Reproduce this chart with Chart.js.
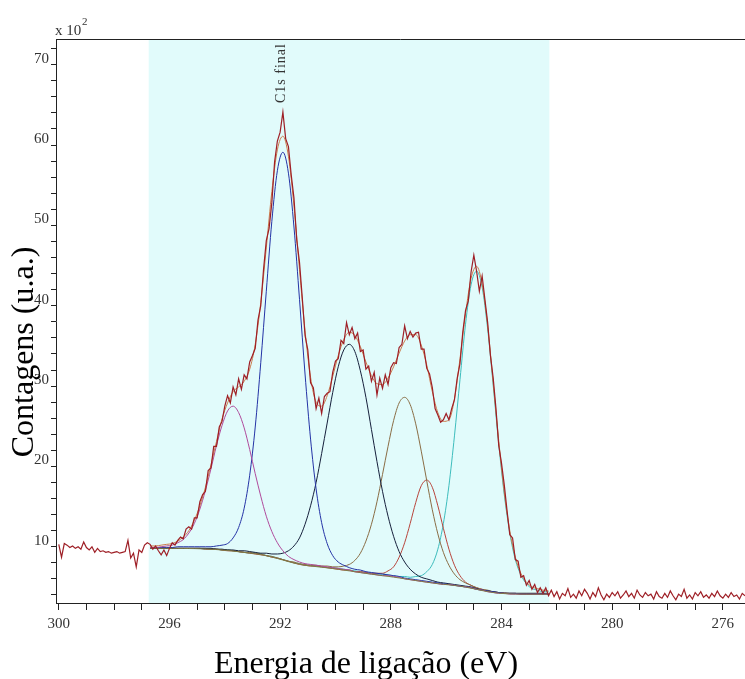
<!DOCTYPE html>
<html>
<head>
<meta charset="utf-8">
<title>C1s final</title>
<script src="https://cdn.jsdelivr.net/npm/chart.js@4.4.1/dist/chart.umd.min.js"></script>
<style>
  html, body { margin: 0; padding: 0; background: #fff; }
  #wrap { width: 745px; height: 679px; }
</style>
</head>
<body>
<div id="wrap"><canvas id="xps" width="745" height="679"></canvas></div>
<script>
// measured spectrum, binding energy in eV, counts in units of 100
const rawEnergy = [
  300.0,299.9,299.8,299.7,299.6,299.5,299.4,299.3,299.2,299.1,
  299.0,298.9,298.8,298.7,298.6,298.5,298.4,298.3,298.2,298.1,
  298.0,297.9,297.8,297.7,297.6,297.5,297.4,297.3,297.2,297.1,
  297.0,296.9,296.8,296.7,296.6,296.5,296.4,296.3,296.2,296.1,
  296.0,295.9,295.8,295.7,295.6,295.5,295.4,295.3,295.2,295.1,
  295.0,294.9,294.8,294.7,294.6,294.5,294.4,294.3,294.2,294.1,
  294.0,293.9,293.8,293.7,293.6,293.5,293.4,293.3,293.2,293.1,
  293.0,292.9,292.8,292.7,292.6,292.5,292.4,292.3,292.2,292.1,
  292.0,291.9,291.8,291.7,291.6,291.5,291.4,291.3,291.2,291.1,
  291.0,290.9,290.8,290.7,290.6,290.5,290.4,290.3,290.2,290.1,
  290.0,289.9,289.8,289.7,289.6,289.5,289.4,289.3,289.2,289.1,
  289.0,288.9,288.8,288.7,288.6,288.5,288.4,288.3,288.2,288.1,
  288.0,287.9,287.8,287.7,287.6,287.5,287.4,287.3,287.2,287.1,
  287.0,286.9,286.8,286.7,286.6,286.5,286.4,286.3,286.2,286.1,
  286.0,285.9,285.8,285.7,285.6,285.5,285.4,285.3,285.2,285.1,
  285.0,284.9,284.8,284.7,284.6,284.5,284.4,284.3,284.2,284.1,
  284.0,283.9,283.8,283.7,283.6,283.5,283.4,283.3,283.2,283.1,
  283.0,282.9,282.8,282.7,282.6,282.5,282.4,282.3,282.2,282.1,
  282.0,281.9,281.8,281.7,281.6,281.5,281.4,281.3,281.2,281.1,
  281.0,280.9,280.8,280.7,280.6,280.5,280.4,280.3,280.2,280.1,
  280.0,279.9,279.8,279.7,279.6,279.5,279.4,279.3,279.2,279.1,
  279.0,278.9,278.8,278.7,278.6,278.5,278.4,278.3,278.2,278.1,
  278.0,277.9,277.8,277.7,277.6,277.5,277.4,277.3,277.2,277.1,
  277.0,276.9,276.8,276.7,276.6,276.5,276.4,276.3,276.2,276.1,
  276.0,275.9,275.8,275.7,275.6,275.5,275.4,275.3,275.2
];
const rawCounts = [
  10.3,8.7,10.4,10.2,9.9,10.1,9.8,10.0,9.7,10.6,
  9.9,9.6,10.0,9.3,9.8,9.4,9.5,9.3,9.4,9.2,
  9.3,9.4,9.2,9.3,9.4,10.8,8.6,9.2,7.5,9.6,
  9.3,10.2,10.5,10.3,9.7,10.1,9.5,9.0,9.6,8.9,
  9.8,10.5,10.2,10.8,11.2,11.0,12.2,12.5,12.2,13.6,
  13.6,15.6,16.5,16.9,19.5,19.8,22.5,22.5,24.9,25.6,
  27.5,28.8,27.9,29.9,28.9,30.9,29.6,31.4,30.9,33.0,
  33.8,34.7,38.2,40.0,44.5,48.1,49.6,52.8,57.9,60.5,
  61.6,64.1,60.8,59.8,56.3,53.4,48.2,45.4,41.0,36.3,
  34.5,30.4,29.8,27.2,28.5,26.6,28.7,29.1,29.3,31.7,
  33.1,33.4,35.7,35.3,37.9,36.4,37.3,35.9,36.6,34.3,
  34.5,32.1,32.5,30.6,31.7,28.9,31.0,29.7,31.4,30.2,
  32.3,32.9,32.8,34.8,35.2,37.5,35.9,36.8,36.1,36.6,
  36.7,34.6,34.6,32.2,31.5,29.8,27.2,26.4,25.5,25.8,
  26.6,25.8,27.2,28.3,31.0,32.8,36.7,39.4,40.6,44.2,
  46.3,44.3,41.8,43.7,40.8,37.9,33.8,31.0,27.2,22.6,
  20.4,17.7,14.5,11.5,11.1,8.4,8.2,6.2,6.4,5.2,
  5.8,4.7,5.3,4.3,4.9,4.2,4.9,3.9,4.6,3.8,
  4.4,3.5,4.2,3.9,4.8,3.7,4.1,3.6,4.5,3.9,
  4.7,4.2,3.5,4.3,3.8,4.9,4.0,3.4,4.1,3.7,
  4.3,3.9,4.4,3.6,4.0,4.5,3.8,4.2,3.6,4.6,
  4.0,3.7,4.3,3.9,4.1,3.5,4.4,3.8,3.6,4.2,
  3.7,4.5,3.9,3.4,4.1,3.8,4.7,3.6,4.0,3.5,
  4.3,3.9,4.4,3.7,4.0,3.6,4.2,3.8,4.5,3.9,
  3.6,4.1,3.7,4.3,3.8,4.0,3.5,4.2,3.9
];

// fitted region (peak fit), sampled every 0.2 eV
const fitEnergy = [
  296.7,296.5,296.3,296.1,295.9,295.7,295.5,295.3,295.1,294.9,
  294.7,294.5,294.3,294.1,293.9,293.7,293.5,293.3,293.1,292.9,
  292.7,292.5,292.3,292.1,291.9,291.7,291.5,291.3,291.1,290.9,
  290.7,290.5,290.3,290.1,289.9,289.7,289.5,289.3,289.1,288.9,
  288.7,288.5,288.3,288.1,287.9,287.7,287.5,287.3,287.1,286.9,
  286.7,286.5,286.3,286.1,285.9,285.7,285.5,285.3,285.1,284.9,
  284.7,284.5,284.3,284.1,283.9,283.7,283.5,283.3,283.1,282.9,
  282.7,282.5,282.3
];
const background = [
  9.80,9.80,9.80,9.80,9.80,9.79,9.79,9.78,9.77,9.75,
  9.73,9.70,9.65,9.60,9.53,9.46,9.38,9.30,9.22,9.13,
  9.02,8.88,8.72,8.54,8.35,8.15,7.97,7.82,7.70,7.61,
  7.53,7.45,7.38,7.29,7.20,7.10,7.00,6.89,6.78,6.68,
  6.59,6.50,6.41,6.32,6.22,6.12,6.02,5.91,5.80,5.69,
  5.59,5.50,5.41,5.33,5.26,5.18,5.09,4.98,4.84,4.70,
  4.55,4.42,4.31,4.23,4.17,4.14,4.12,4.11,4.10,4.10,
  4.10,4.10,4.10
];
const envelope = [
  10.1,10.1,10.2,10.3,10.4,10.7,11.2,12.0,13.3,15.1,
  17.4,20.2,23.1,25.9,27.9,29.3,29.9,30.6,32.1,35.2,
  40.4,47.2,54.2,59.4,61.1,58.6,52.4,44.5,36.9,31.1,
  28.0,27.5,28.8,31.2,33.8,35.8,36.7,36.3,34.9,33.0,
  31.3,30.3,30.2,31.0,32.4,34.1,35.6,36.4,36.4,35.1,
  32.6,29.3,26.7,25.6,25.8,28.4,33.4,39.0,43.4,44.9,
  42.7,37.5,30.4,23.2,16.8,12.0,8.7,6.7,5.6,5.0,
  4.8,4.6,4.5
];
const peak1 = [
  9.9,9.9,10.0,10.1,10.2,10.5,10.9,11.7,12.9,14.7,
  17.0,19.7,22.6,25.1,26.9,27.5,26.7,24.8,22.1,19.1,
  16.3,13.8,11.9,10.5,9.5,8.8,8.4,8.1,7.9,7.8,
  7.7,7.6,7.5,7.4,7.3,7.2,7.1,6.9,6.8,6.7,
  6.6,6.5,6.4,6.4,6.3,6.2,6.0,5.9,5.8,5.7,
  5.6,5.5,5.4,5.3,5.3,5.2,5.1,5.0,4.9,4.7,
  4.6,4.4,4.3,4.2,4.2,4.1,4.1,4.1,4.1,4.1,
  4.1,4.1,4.1
];
const peak2 = [
  9.9,9.9,9.9,9.9,9.9,10.0,10.0,10.0,10.0,10.0,
  10.0,10.0,10.1,10.2,10.4,11.1,12.4,14.8,18.9,24.9,
  32.9,41.8,50.5,56.8,59.1,56.5,49.8,40.8,31.5,23.4,
  17.2,13.0,10.4,8.9,8.1,7.7,7.4,7.2,7.1,6.9,
  6.8,6.7,6.6,6.5,6.4,6.3,6.1,6.0,5.9,5.8,
  5.7,5.6,5.5,5.4,5.3,5.2,5.1,5.0,4.9,4.7,
  4.6,4.5,4.4,4.3,4.2,4.2,4.2,4.1,4.1,4.1,
  4.1,4.1,4.1
];
const peak3 = [
  9.8,9.8,9.8,9.8,9.8,9.8,9.8,9.8,9.8,9.8,
  9.8,9.8,9.7,9.7,9.6,9.6,9.5,9.5,9.4,9.3,
  9.2,9.2,9.1,9.1,9.2,9.5,10.1,11.1,12.8,15.1,
  18.0,21.6,25.4,29.2,32.4,34.5,35.2,34.3,31.9,28.6,
  24.6,20.6,16.9,13.8,11.3,9.4,8.1,7.2,6.6,6.2,
  6.0,5.8,5.6,5.5,5.4,5.3,5.2,5.1,5.0,4.8,
  4.6,4.5,4.4,4.3,4.2,4.2,4.2,4.2,4.2,4.2,
  4.2,4.2,4.1
];
const peak4 = [
  9.8,9.8,9.8,9.8,9.8,9.8,9.8,9.8,9.8,9.8,
  9.8,9.7,9.7,9.6,9.6,9.5,9.4,9.3,9.3,9.2,
  9.1,8.9,8.8,8.6,8.4,8.2,8.1,7.9,7.8,7.7,
  7.7,7.6,7.6,7.5,7.5,7.6,7.8,8.3,9.2,10.7,
  12.8,15.6,19.0,22.5,25.7,27.9,28.6,27.7,25.3,21.9,
  18.2,14.6,11.6,9.3,7.7,6.6,5.9,5.5,5.2,4.9,
  4.7,4.6,4.4,4.3,4.3,4.2,4.2,4.2,4.2,4.2,
  4.2,4.2,4.2
];
const peak5 = [
  9.8,9.8,9.8,9.8,9.8,9.8,9.8,9.8,9.8,9.8,
  9.7,9.7,9.7,9.6,9.5,9.5,9.4,9.3,9.2,9.1,
  9.0,8.9,8.7,8.6,8.4,8.2,8.0,7.8,7.7,7.6,
  7.6,7.5,7.4,7.3,7.2,7.1,7.1,6.9,6.9,6.8,
  6.7,6.7,6.7,7.0,7.5,8.7,10.5,12.9,15.5,17.6,
  18.3,17.4,15.1,12.3,9.7,7.7,6.4,5.6,5.2,4.9,
  4.7,4.5,4.4,4.3,4.2,4.2,4.2,4.1,4.1,4.1,
  4.1,4.1,4.1
];
const peak6 = [
  9.8,9.8,9.8,9.8,9.8,9.8,9.8,9.8,9.8,9.8,
  9.7,9.7,9.7,9.6,9.6,9.5,9.4,9.3,9.2,9.2,
  9.1,8.9,8.8,8.6,8.4,8.2,8.0,7.9,7.7,7.7,
  7.6,7.5,7.4,7.4,7.3,7.2,7.1,7.0,6.9,6.8,
  6.7,6.6,6.6,6.5,6.4,6.3,6.3,6.2,6.3,6.4,
  6.9,7.8,9.7,12.9,17.6,23.8,30.8,37.7,42.6,44.3,
  42.3,37.1,30.1,22.8,16.5,11.7,8.4,6.5,5.4,4.8,
  4.6,4.4,4.4
];

const fitRegion = [296.75, 282.27];
const xTicks = [300,299,298,297,296,295,294,293,292,291,290,289,288,287,286,285,284,283,282,281,280,279,278,277,276];
const xLabels = [300,296,292,288,284,280,276];
const yTicks = [4,6,8,10,12,14,16,18,20,22,24,26,28,30,32,34,36,38,40,42,44,46,48,50,52,54,56,58,60,62,64,66,68,70,72];
const yLabels = [10,20,30,40,50,60,70];
const xTitle = 'Energia de ligação (eV)';
const yTitle = 'Contagens (u.a.)';
const peakLabel = { text: 'C1s final', energy: 292 };

const colors = {
  raw: '#9e1f26',
  envelope: '#cc7c4c',
  peak1: '#b04a9c',
  peak2: '#2433a6',
  peak3: '#16203c',
  peak4: '#8a6d45',
  peak5: '#b8453c',
  peak6: '#3dbdbd',
  background: '#7f7a45',
  band: '#e1fbfb',
  axis: '#222',
  text: '#333'
};
const serif = '"Liberation Serif", "Times New Roman", serif';

const toPoints = (xs, ys) => xs.map((x, i) => ({ x: x, y: ys[i] }));

function fitLine(label, values, color, order) {
  return {
    label: label,
    data: toPoints(fitEnergy, values),
    borderColor: color,
    borderWidth: 1,
    pointRadius: 0,
    cubicInterpolationMode: 'monotone',
    fill: false,
    order: order
  };
}

const decorations = {
  id: 'decorations',
  beforeDatasetsDraw(chart) {
    const { ctx, chartArea: a, scales: { x } } = chart;
    const x0 = x.getPixelForValue(fitRegion[0]);
    const x1 = x.getPixelForValue(fitRegion[1]);
    ctx.save();
    ctx.fillStyle = colors.band;
    ctx.fillRect(x0, a.top, x1 - x0, a.bottom - a.top);
    ctx.restore();
  },
  afterDraw(chart) {
    const { ctx, chartArea: a, scales: { x } } = chart;
    ctx.save();
    // frame line along the top
    ctx.strokeStyle = colors.axis;
    ctx.lineWidth = 1;
    ctx.beginPath();
    ctx.moveTo(a.left, a.top + 0.5);
    ctx.lineTo(a.right, a.top + 0.5);
    ctx.stroke();

    // scale factor of the y axis
    ctx.fillStyle = colors.text;
    ctx.textBaseline = 'alphabetic';
    ctx.font = '15px ' + serif;
    ctx.fillText('x 10', 55, 35);
    ctx.font = '11px ' + serif;
    ctx.fillText('2', 82, 25);

    // peak name, written upwards
    ctx.save();
    ctx.translate(x.getPixelForValue(peakLabel.energy) + 5, 103);
    ctx.rotate(-Math.PI / 2);
    ctx.font = '14px ' + serif;
    ctx.letterSpacing = '1px';
    ctx.fillText(peakLabel.text, 0, 0);
    ctx.restore();

    // axis titles
    ctx.fillStyle = '#000';
    ctx.font = '32px ' + serif;
    ctx.textAlign = 'center';
    ctx.fillText(xTitle, 366, 673);
    ctx.translate(33, 352);
    ctx.rotate(-Math.PI / 2);
    ctx.fillText(yTitle, 0, 0);
    ctx.restore();
  }
};

const tickFont = { family: serif, size: 15 };

new Chart(document.getElementById('xps'), {
  type: 'line',
  data: {
    datasets: [
      {
        label: 'raw',
        data: toPoints(rawEnergy, rawCounts),
        borderColor: colors.raw,
        borderWidth: 1.2,
        pointRadius: 0,
        tension: 0,
        fill: false,
        order: 0
      },
      fitLine('envelope', envelope, colors.envelope, 1),
      fitLine('background', background, colors.background, 2),
      fitLine('peak 1', peak1, colors.peak1, 3),
      fitLine('peak 2', peak2, colors.peak2, 3),
      fitLine('peak 3', peak3, colors.peak3, 3),
      fitLine('peak 4', peak4, colors.peak4, 3),
      fitLine('peak 5', peak5, colors.peak5, 3),
      fitLine('peak 6', peak6, colors.peak6, 3)
    ]
  },
  options: {
    responsive: false,
    animation: false,
    events: [],
    layout: { padding: { top: 39, right: 0, left: 0, bottom: 0 } },
    plugins: {
      legend: { display: false },
      tooltip: { enabled: false }
    },
    scales: {
      x: {
        type: 'linear',
        reverse: true,
        min: 275.2,
        max: 300.1,
        afterFit: s => { s.height = 76; },
        afterBuildTicks: s => { s.ticks = xTicks.map(v => ({ value: v })); },
        grid: { drawOnChartArea: false, tickLength: 7, tickColor: colors.axis },
        border: { color: colors.axis, width: 1 },
        ticks: {
          autoSkip: false,
          maxRotation: 0,
          padding: 5,
          color: colors.text,
          font: tickFont,
          callback: v => xLabels.includes(v) ? String(v) : ''
        }
      },
      y: {
        type: 'linear',
        min: 3,
        max: 73.2,
        afterFit: s => { s.width = 56; },
        afterBuildTicks: s => { s.ticks = yTicks.map(v => ({ value: v })); },
        grid: { drawOnChartArea: false, tickLength: 5, tickColor: colors.axis },
        border: { color: colors.axis, width: 1 },
        ticks: {
          autoSkip: false,
          padding: 2,
          labelOffset: -6,
          color: colors.text,
          font: tickFont,
          callback: v => yLabels.includes(v) ? String(v) : ''
        }
      }
    }
  },
  plugins: [decorations]
});
</script>
</body>
</html>
